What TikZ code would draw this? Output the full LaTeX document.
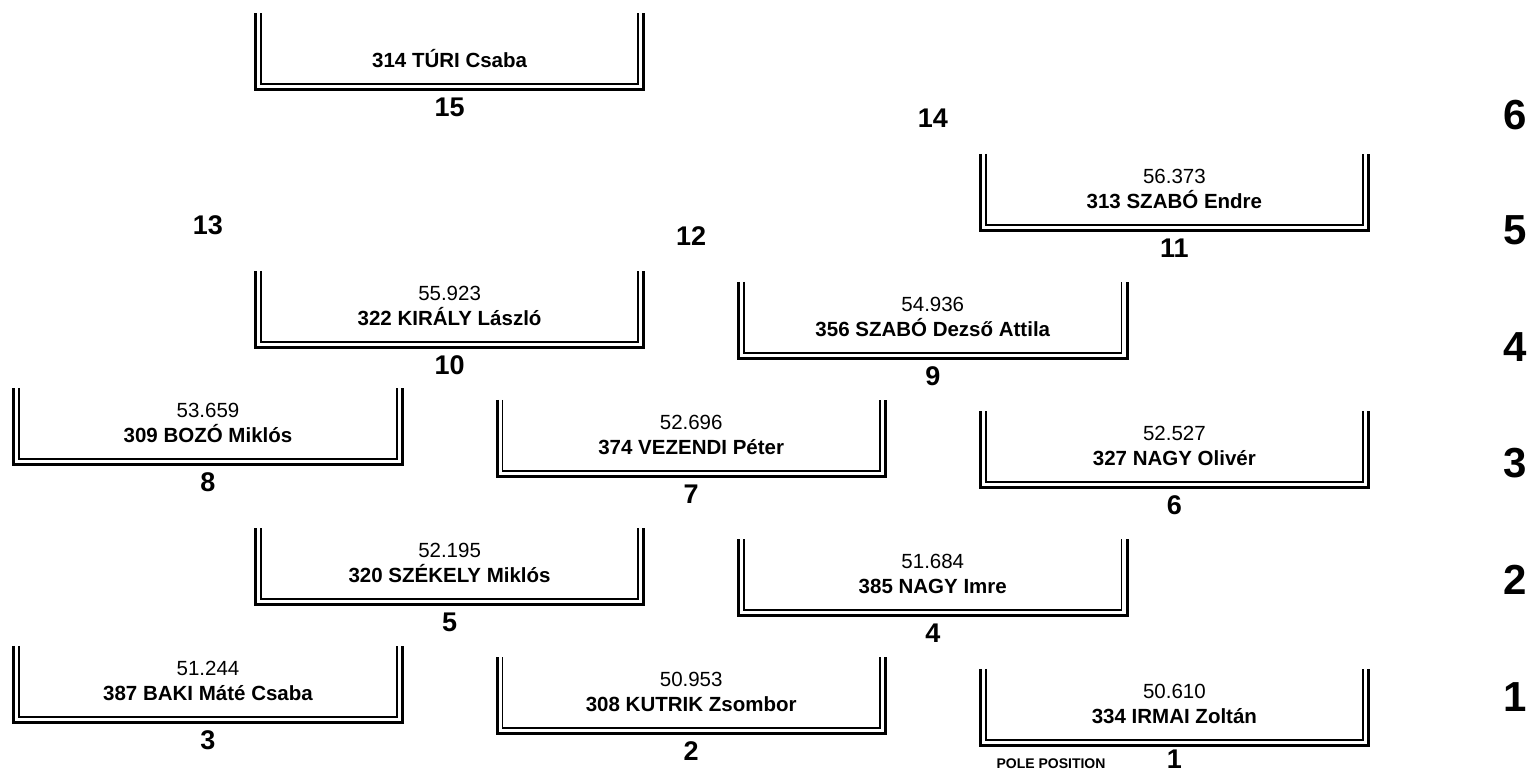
\documentclass[tikz,border=0pt]{standalone}
\usepackage{fontspec}
\setmainfont{Liberation Sans}
\begin{document}
\begin{tikzpicture}[x=1pt,y=-1pt,
  slot/.style={minimum width=388pt, minimum height=76pt, inner sep=0pt, draw=none},
  outerU/.style={line width=3pt, line join=miter},
  innerU/.style={line width=1.8pt, line join=miter},
  timetxt/.style={font=\fontsize{20.5}{24}\selectfont, inner sep=0pt, anchor=base},
  nametxt/.style={font=\fontsize{20.5}{24}\selectfont\bfseries, inner sep=0pt, anchor=base},
  numtxt/.style={font=\fontsize{27}{32}\selectfont\bfseries, inner sep=0pt, anchor=base},
  rowtxt/.style={font=\fontsize{42}{48}\selectfont\bfseries, inner sep=0pt, anchor=base},
  poletxt/.style={font=\fontsize{14}{16}\selectfont\bfseries, inner sep=0pt, anchor=base},
]
\useasboundingbox (0,0) rectangle (1532,771);
% name, cx, B (outer bottom), driver
\newcommand\gbox[4]{%
  \node[slot] (#1) at (#2,#3-38) {};
  \draw[outerU] (#1.north west) -- (#1.south west) -- (#1.south east) -- (#1.north east);
  \draw[innerU] ([xshift=5.5pt]#1.north west) -- ([xshift=5.5pt,yshift=5.5pt]#1.south west)
     -- ([xshift=-5.5pt,yshift=5.5pt]#1.south east) -- ([xshift=-5.5pt]#1.north east);
  \node[nametxt] (#1n) at (#2,#3-22) {#4};
}
\newcommand\gnum[4]{\node[numtxt] (#1) at (#2,#3) {#4};}
\newcommand\tm[4]{\node[timetxt] (#1) at (#2,#3-47) {#4};}

\def\ca{208}\def\cb{449.6}\def\cc{691.2}\def\cd{932.8}\def\ce{1174.4}

\gbox{b1}{\ce}{745}{334 IRMAI Zoltán}
\tm{b1t}{\ce}{745}{50.610}
\gnum{b1p}{\ce}{768}{1}
\gbox{b2}{\cc}{733.5}{308 KUTRIK Zsombor}
\tm{b2t}{\cc}{733.5}{50.953}
\gnum{b2p}{\cc}{760.5}{2}
\gbox{b3}{\ca}{722}{387 BAKI Máté Csaba}
\tm{b3t}{\ca}{722}{51.244}
\gnum{b3p}{\ca}{749}{3}
\gbox{b4}{\cd}{615.5}{385 NAGY Imre}
\tm{b4t}{\cd}{615.5}{51.684}
\gnum{b4p}{\cd}{642.5}{4}
\gbox{b5}{\cb}{604.5}{320 SZÉKELY Miklós}
\tm{b5t}{\cb}{604.5}{52.195}
\gnum{b5p}{\cb}{631.5}{5}
\gbox{b6}{\ce}{487.5}{327 NAGY Olivér}
\tm{b6t}{\ce}{487.5}{52.527}
\gnum{b6p}{\ce}{514.5}{6}
\gbox{b7}{\cc}{476}{374 VEZENDI Péter}
\tm{b7t}{\cc}{476}{52.696}
\gnum{b7p}{\cc}{503}{7}
\gbox{b8}{\ca}{464.5}{309 BOZÓ Miklós}
\tm{b8t}{\ca}{464.5}{53.659}
\gnum{b8p}{\ca}{491.5}{8}
\gbox{b9}{\cd}{358}{356 SZABÓ Dezső Attila}
\tm{b9t}{\cd}{358}{54.936}
\gnum{b9p}{\cd}{385}{9}
\gbox{b10}{\cb}{347}{322 KIRÁLY László}
\tm{b10t}{\cb}{347}{55.923}
\gnum{b10p}{\cb}{374}{10}
\gbox{b11}{\ce}{230}{313 SZABÓ Endre}
\tm{b11t}{\ce}{230}{56.373}
\gnum{b11p}{\ce}{257}{11}
\gbox{b15}{\cb}{89.5}{314 TÚRI Csaba}
\gnum{b15p}{\cb}{116.5}{15}

% empty grid slots: only their numbers
\gnum{p12}{\cc}{245.5}{12}
\gnum{p13}{\ca}{234}{13}
\gnum{p14}{\cd}{127.5}{14}

\node[poletxt] (pole) at (1051,768) {POLE POSITION};

% row numbers
\node[rowtxt] (r6) at (1515,129) {6};
\node[rowtxt] (r5) at (1515,244) {5};
\node[rowtxt] (r4) at (1515,361) {4};
\node[rowtxt] (r3) at (1515,477) {3};
\node[rowtxt] (r2) at (1515,594) {2};
\node[rowtxt] (r1) at (1515,711) {1};
\end{tikzpicture}
\end{document}
